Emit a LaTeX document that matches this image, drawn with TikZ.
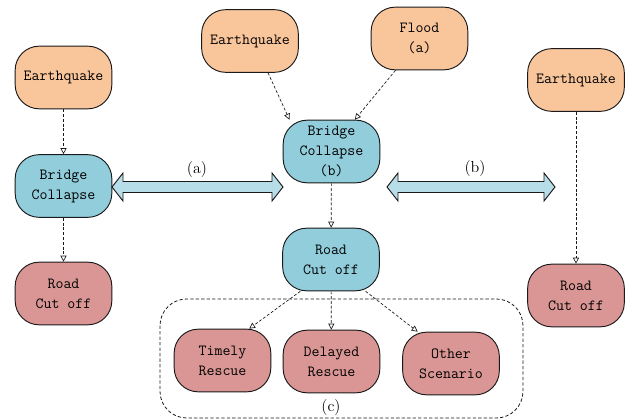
\documentclass[tikz,border=0pt]{standalone}
\usepackage{fontspec}
\usetikzlibrary{arrows.meta}
\definecolor{hazard}{HTML}{F9C59B}
\definecolor{bridge}{HTML}{92CDDC}
\definecolor{impact}{HTML}{D99694}
\definecolor{linkfill}{HTML}{B7DDE8}
\definecolor{edge}{HTML}{1A1A1A}
\newcommand\dblarrow[3]{% left tip x, right tip x, centre y
  \filldraw[fill=linkfill,draw=edge,line width=0.7pt,line join=miter]
    (#1,#3) -- (#1+11,#3-14) -- (#1+11,#3-5.5) -- (#2-11,#3-5.5) -- (#2-11,#3-14)
    -- (#2,#3) -- (#2-11,#3+14) -- (#2-11,#3+5.5) -- (#1+11,#3+5.5) -- (#1+11,#3+14) -- cycle;}
\begin{document}
\begin{tikzpicture}[x=0.75pt,y=-0.75pt,
  box/.style={draw=edge,line width=0.7pt,rounded corners=18pt,minimum width=72.5pt,
    minimum height=47pt,align=center,inner sep=2pt,font=\ttfamily\fontsize{11.6}{15}\selectfont},
  cause/.style={box,fill=hazard},
  failure/.style={box,fill=bridge},
  effect/.style={box,fill=impact},
  link/.style={draw=edge,dashed,line width=0.5pt,dash pattern=on 2.2pt off 1.4pt,
    -{Triangle[open,length=4.5pt,width=4.5pt]}},
  tag/.style={font=\fontsize{12}{14}\selectfont}]
\useasboundingbox (0,0) rectangle (629,420);

% left chain
\node[cause]   (eqL)   at (63.5,77.5) {Earthquake};
\node[failure] (brL)   at (63.5,186)  {Bridge\\Collapse};
\node[effect]  (rdL)   at (63.5,293.5){Road\\Cut off};

% central chain
\node[cause]   (eqM)   at (250,41)    {Earthquake};
\node[cause]   (fl)    at (419.5,38.5){Flood\\(a)};
\node[failure] (brM)   at (331.5,151.5){Bridge\\Collapse\\(b)};
\node[failure] (rdM)   at (331,259.5) {Road\\Cut off};
\node[effect]  (tr)    at (222.5,360.5){Timely\\Rescue};
\node[effect]  (dr)    at (331.5,361.5){Delayed\\Rescue};
\node[effect]  (os)    at (451,363.5) {Other\\Scenario};

% right chain
\node[cause]   (eqR)   at (576,80)    {Earthquake};
\node[effect]  (rdR)   at (576,295.5) {Road\\Cut off};

% outcome group
\draw[edge,dashed,line width=0.6pt,dash pattern=on 2.5pt off 1.6pt,rounded corners=20pt]
  (160,299) rectangle (523,418);
\node[tag] (c) at (331,408) {(c)};

% causal links
\draw[link] (eqL) -- (brL);
\draw[link] (brL) -- (rdL);
\draw[link] (eqM.south) ++(18,0) -- ([xshift=-31.5pt]brM.north);
\draw[link] (fl.south) ++(-24,0) -- ([xshift=17.5pt]brM.north);
\draw[link] (brM) -- (rdM);
\draw[link] ([xshift=-23pt]rdM.south) -- ([xshift=20pt]tr.north);
\draw[link] (rdM) -- (dr);
\draw[link] ([xshift=26pt]rdM.south) -- ([xshift=-25pt]os.north);
\draw[link] (eqR) -- (rdR);

% comparison arrows
\dblarrow{112}{283}{187}
\node[tag] (a) at (197,170) {(a)};
\dblarrow{387}{555}{187}
\node[tag] (b) at (475,169) {(b)};
\end{tikzpicture}
\end{document}
